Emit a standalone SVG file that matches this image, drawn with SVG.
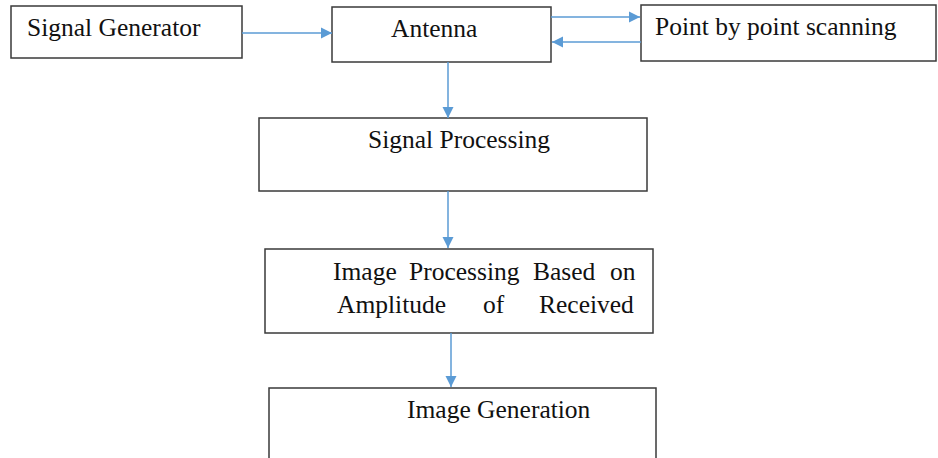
<svg xmlns="http://www.w3.org/2000/svg" width="938" height="458" viewBox="0 0 938 458">
<defs>
<marker id="ah" markerWidth="12" markerHeight="12" refX="11" refY="6" orient="auto" markerUnits="userSpaceOnUse">
<path d="M0,0.5 L11,6 L0,11.5 Z" fill="#5B9BD5"/>
</marker>
<style>
.box{fill:none;stroke:#3a3a3a;stroke-width:1.5}
.t{font-family:"Liberation Serif","Times New Roman",serif;font-size:25.5px;fill:#111}
.c{fill:none;stroke:#5B9BD5;stroke-width:1.5;marker-end:url(#ah)}
</style>
</defs>
<rect width="938" height="458" fill="#fff"/>
<g id="signal-generator"><rect class="box" x="11" y="6" width="231" height="52"/><text class="t" x="27" y="36">Signal Generator</text></g>
<g id="antenna"><rect class="box" x="332" y="7" width="219" height="55"/><text class="t" x="391" y="37">Antenna</text></g>
<g id="point-scanning"><rect class="box" x="641" y="5" width="295" height="56"/><text class="t" x="655" y="35">Point by point scanning</text></g>
<g id="signal-processing"><rect class="box" x="259" y="118" width="388" height="73"/><text class="t" x="368" y="148">Signal Processing</text></g>
<g id="image-processing"><rect class="box" x="265" y="249" width="388" height="84"/>
<text class="t" x="333" y="280">Image</text><text class="t" x="409" y="280">Processing</text><text class="t" x="533" y="280">Based</text><text class="t" x="610" y="280">on</text>
<text class="t" x="337" y="313">Amplitude</text><text class="t" x="483" y="313">of</text><text class="t" x="539" y="313">Received</text></g>
<g id="image-generation"><rect class="box" x="269" y="388" width="387" height="80"/><text class="t" x="407" y="418">Image Generation</text></g>
<g id="connectors">
<line class="c" x1="242" y1="33" x2="332" y2="33"/>
<line class="c" x1="551" y1="17" x2="640" y2="17"/>
<line class="c" x1="641" y1="42" x2="552" y2="42"/>
<line class="c" x1="448" y1="62" x2="448" y2="118"/>
<line class="c" x1="448" y1="191" x2="448" y2="248"/>
<line class="c" x1="451" y1="333" x2="451" y2="387"/>
</g>
</svg>
